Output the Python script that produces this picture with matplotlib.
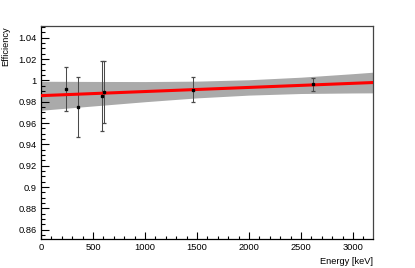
import matplotlib
matplotlib.use("Agg")
import matplotlib.pyplot as plt
from matplotlib.ticker import MultipleLocator, FixedLocator

plt.rcParams['font.family'] = ['Liberation Sans', 'DejaVu Sans']

# Data points (energy in keV, efficiency, error)
energy = [244, 356, 586, 609, 1460, 2614]
eff = [0.9918, 0.9751, 0.9854, 0.9892, 0.9912, 0.9962]
err = [0.0203, 0.028, 0.0325, 0.029, 0.0117, 0.0058]

# Linear fit line
fit_energy = [0, 3195]
fit_eff = [0.9857, 0.9980]

# Confidence band
band_energy = [0, 500, 1000, 1500, 2000, 2500, 3000, 3195]
band_hi = [0.9992, 0.9990, 0.9989, 0.9993, 1.0006, 1.0030, 1.0063, 1.0077]
band_lo = [0.9720, 0.9760, 0.9800, 0.9836, 0.9862, 0.9877, 0.9882, 0.9883]

yticks = [0.86, 0.88, 0.90, 0.92, 0.94, 0.96, 0.98, 1.00, 1.02, 1.04]
ytick_labels = ['0.86', '0.88', '0.9', '0.92', '0.94', '0.96', '0.98', '1', '1.02', '1.04']
xticks = [0, 500, 1000, 1500, 2000, 2500, 3000]

fig = plt.figure(figsize=(4.15, 2.68), dpi=100)
ax = fig.add_axes([0.0988, 0.1071, 0.8007, 0.7959])

ax.fill_between(band_energy, band_lo, band_hi, color='#aaaaaa', linewidth=0, zorder=1)
ax.errorbar(energy, eff, yerr=err, fmt='none', ecolor='#4a4a4a', elinewidth=0.75,
            capsize=1.5, capthick=0.9, zorder=2)
ax.plot(fit_energy, fit_eff, color='#ff0000', linewidth=2.2, zorder=3)
ax.plot(energy, eff, 's', color='black', markersize=1.6, zorder=4)

ax.set_xlim(0, 3195)
ax.set_ylim(0.851, 1.051)

ax.yaxis.set_major_locator(FixedLocator(yticks))
ax.set_yticklabels(ytick_labels)
ax.yaxis.set_minor_locator(MultipleLocator(0.005))
ax.xaxis.set_major_locator(FixedLocator(xticks))
ax.set_xticklabels([str(x) for x in xticks])
ax.xaxis.set_minor_locator(MultipleLocator(100))

ax.tick_params(axis='both', which='both', direction='in', labelsize=6.7, width=0.8,
               colors='black', top=False, right=False)
ax.tick_params(axis='y', which='major', length=6, pad=3)
ax.tick_params(axis='y', which='minor', length=3)
ax.tick_params(axis='x', which='major', length=5, pad=3)
ax.tick_params(axis='x', which='minor', length=2.5)

for side in ['left', 'bottom']:
    ax.spines[side].set_color('black')
    ax.spines[side].set_linewidth(0.9)
for side in ['top', 'right']:
    ax.spines[side].set_color('#444444')
    ax.spines[side].set_linewidth(0.9)

ax.set_ylabel('Efficiency', fontsize=6.7, loc='top', labelpad=6)
ax.set_xlabel('Energy [keV]', fontsize=6.7, loc='right', labelpad=3)

fig.savefig('out.png', dpi=100)
